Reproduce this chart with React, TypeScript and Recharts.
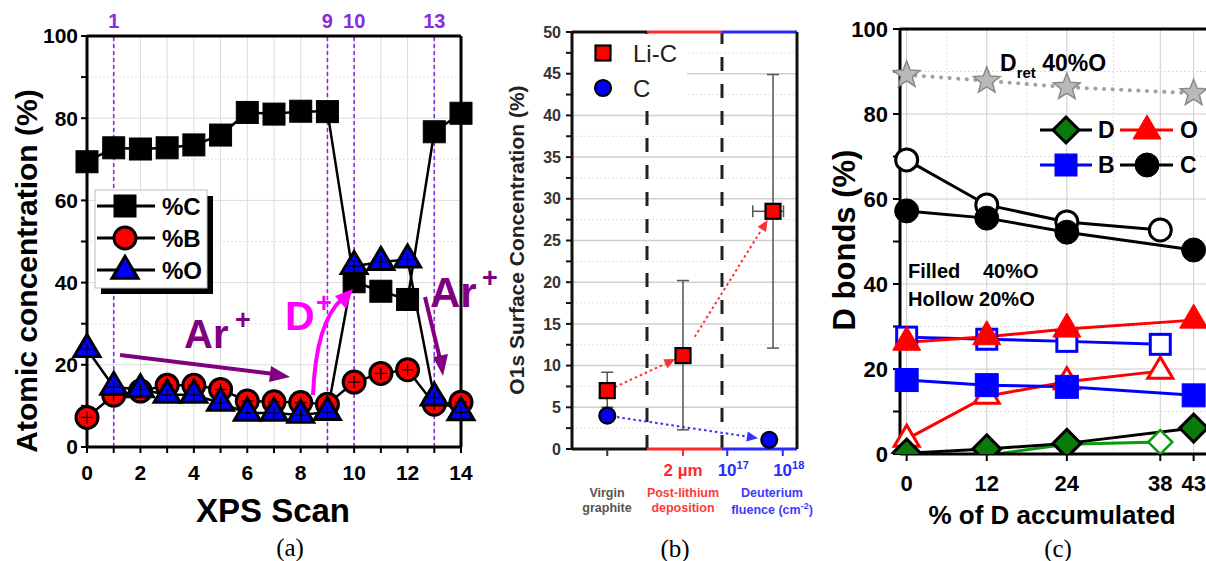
import React from 'react';
import {
  ComposedChart,
  Line,
  Scatter,
  XAxis,
  YAxis,
  CartesianGrid,
  ReferenceLine,
  ErrorBar,
} from 'recharts';

const FONT = '"Liberation Sans", Arial, Helvetica, sans-serif';
const SERIF = '"Liberation Serif", "Times New Roman", serif';

// ---------------- Panel (a) data ----------------
const scanX = [0, 1, 2, 3, 4, 5, 6, 7, 8, 9, 10, 11, 12, 13, 14];
const pctC = [69.4, 72.8, 72.5, 72.8, 73.5, 75.9, 81.4, 81.0, 81.7, 81.6, 40.2, 37.9, 35.9, 76.7, 81.2];
const pctB = [7.2, 12.6, 13.6, 15.0, 15.0, 14.0, 11.2, 11.0, 10.8, 10.4, 15.8, 17.9, 18.8, 10.4, 10.9];
const pctO = [23.8, 14.6, 14.0, 12.7, 12.7, 10.7, 8.3, 8.3, 7.8, 8.5, 44.0, 45.0, 45.6, 12.0, 8.4];
const scanMarks = [1, 9, 10, 13];
const aYTicks = [0, 10, 20, 30, 40, 50, 60, 70, 80, 90, 100];
const aYMajor = [20, 40, 60, 80];
const aYMinor = [10, 30, 50, 70, 90];

// ---------------- Panel (b) data ----------------
const bLiCX = [0.47, 1.48, 2.68];
const bLiC = [7.0, 11.2, 28.5];
const bLiCErrLow = [2.0, 8.9, 16.4];
const bLiCErrHigh = [2.2, 9.0, 16.4];
const bLiCXErrLow = [0, 0, 0.27];
const bLiCXErrHigh = [0, 0, 0.14];
const bCX = [0.47, 2.63];
const bC = [4.0, 1.1];
const bYTicks = [0, 2.5, 5, 7.5, 10, 12.5, 15, 17.5, 20, 22.5, 25, 27.5, 30, 32.5, 35, 37.5, 40, 42.5, 45, 47.5, 50];
const bYMajor = [5, 10, 15, 20, 25, 30, 35, 40, 45];
const bYMinor = [2.5, 7.5, 12.5, 17.5, 22.5, 27.5, 32.5, 37.5, 42.5, 47.5];
const bSections = [0, 1, 2, 3];
const bSectionColors = ['#111111', '#ff2a2a', '#2a2aff'];
const bTicks = [0.47, 1.48, 2.07, 2.81];
const bTickBase = ['', '2 \u00b5m', '10', '10'];
const bTickExp = ['', '', '17', '18'];
const bTickColors = ['#333333', '#ff2a2a', '#2a2aff', '#2a2aff'];

// ---------------- Panel (c) data ----------------
const accFilled = [0, 12, 24, 43];
const accHollow = [0, 12, 24, 38];
const cTicks = [0, 12, 24, 38, 43];
const dRet = [89.2, 87.8, 86.3, 84.9];
const cFilled = [57.2, 55.5, 52.2, 48.0];
const cHollow = [69.2, 58.6, 54.6, 52.7];
const oFilled = [26.3, 27.6, 29.4, 31.5];
const oHollow = [3.5, 13.6, 17.0, 19.5];
const bFilled = [17.4, 16.2, 15.8, 13.8];
const bHollow = [27.5, 27.0, 26.5, 25.8];
const dFilled = [0.2, 1.2, 2.5, 6.1];
const dHollow = [0.0, -0.3, 2.3, 2.8];
const cYTicks = [0, 10, 20, 30, 40, 50, 60, 70, 80, 90, 100];
const cYMajor = [20, 40, 60, 80];
const cYMinor = [10, 30, 50, 70, 90];
const cXMinor = [6, 18, 31];

const zip = (xs: number[], ys: number[]) => xs.map((x, i) => ({ x, y: ys[i] }));

const dataA = scanX.map((x, i) => ({ x, C: pctC[i], B: pctB[i], O: pctO[i] }));

const dataLiC = bLiCX.map((x, i) => ({
  x,
  y: bLiC[i],
  err: [bLiCErrLow[i], bLiCErrHigh[i]],
  xerr: [bLiCXErrLow[i], bLiCXErrHigh[i]],
}));
const dataC = zip(bCX, bC);

// ---------------- Marker shapes ----------------
const Square = ({ cx, cy, s, fill, stroke, sw }: any) => (
  <rect x={cx - s / 2} y={cy - s / 2} width={s} height={s} fill={fill} stroke={stroke} strokeWidth={sw} />
);
const Circle = ({ cx, cy, r, fill, stroke, sw }: any) => (
  <circle cx={cx} cy={cy} r={r} fill={fill} stroke={stroke} strokeWidth={sw} />
);
const Triangle = ({ cx, cy, w, h, fill, stroke, sw }: any) => (
  <polygon
    points={`${cx},${cy - (2 * h) / 3} ${cx + w / 2},${cy + h / 3} ${cx - w / 2},${cy + h / 3}`}
    fill={fill}
    stroke={stroke}
    strokeWidth={sw}
    strokeLinejoin="miter"
  />
);
const Diamond = ({ cx, cy, r, fill, stroke, sw }: any) => (
  <polygon
    points={`${cx},${cy - r} ${cx + r},${cy} ${cx},${cy + r} ${cx - r},${cy}`}
    fill={fill}
    stroke={stroke}
    strokeWidth={sw}
  />
);
const Star = ({ cx, cy, R, rr, fill, stroke, sw }: any) => {
  const pts: string[] = [];
  for (let i = 0; i < 10; i++) {
    const ang = -Math.PI / 2 + (i * Math.PI) / 5;
    const rad = i % 2 === 0 ? R : rr;
    pts.push(`${cx + rad * Math.cos(ang)},${cy + rad * Math.sin(ang)}`);
  }
  return <polygon points={pts.join(' ')} fill={fill} stroke={stroke} strokeWidth={sw} />;
};
const Cross = ({ cx, cy }: any) => (
  <g stroke="#000" strokeWidth={1.2}>
    <line x1={cx - 6} y1={cy} x2={cx + 6} y2={cy} />
    <line x1={cx} y1={cy - 6} x2={cx} y2={cy + 6} />
  </g>
);

const okPt = (p: any) => p && Number.isFinite(p.cx) && Number.isFinite(p.cy);

const dotSqA = (p: any) =>
  okPt(p) ? (
    <g key={`sa-${p.index}`}>
      <Square cx={p.cx} cy={p.cy} s={22} fill="#000" stroke="#000" sw={1} />
    </g>
  ) : (
    <g key={`sa-${p.index}`} />
  );
const dotCircA = (p: any) =>
  okPt(p) ? (
    <g key={`ca-${p.index}`}>
      <Circle cx={p.cx} cy={p.cy} r={11} fill="#ff0000" stroke="#000" sw={3} />
      <Cross cx={p.cx} cy={p.cy} />
    </g>
  ) : (
    <g key={`ca-${p.index}`} />
  );
const dotTriA = (p: any) =>
  okPt(p) ? (
    <g key={`ta-${p.index}`}>
      <Triangle cx={p.cx} cy={p.cy} w={26} h={22} fill="#0000ff" stroke="#000" sw={3} />
      <Cross cx={p.cx} cy={p.cy} />
    </g>
  ) : (
    <g key={`ta-${p.index}`} />
  );

const mk = (name: string, render: (cx: number, cy: number) => React.ReactElement) => (p: any) =>
  okPt(p) ? <g key={`${name}-${p.index}`}>{render(p.cx, p.cy)}</g> : <g key={`${name}-${p.index}`} />;

const dotStar = mk('st', (cx, cy) => <Star cx={cx} cy={cy} R={14} rr={6} fill="#b9b9b9" stroke="#8a8a8a" sw={1.5} />);
const dotCF = mk('cf', (cx, cy) => <Circle cx={cx} cy={cy} r={12} fill="#000" stroke="#000" sw={1} />);
const dotCH = mk('ch', (cx, cy) => <Circle cx={cx} cy={cy} r={11} fill="#fff" stroke="#000" sw={3} />);
const dotOF = mk('of', (cx, cy) => <Triangle cx={cx} cy={cy} w={28} h={24} fill="#ff0000" stroke="#ff0000" sw={1} />);
const dotOH = mk('oh', (cx, cy) => <Triangle cx={cx} cy={cy} w={25} h={21} fill="#fff" stroke="#ff0000" sw={3} />);
const dotBF = mk('bf', (cx, cy) => <Square cx={cx} cy={cy} s={23} fill="#0000ff" stroke="#0000ff" sw={1} />);
const dotBH = mk('bh', (cx, cy) => <Square cx={cx} cy={cy} s={20} fill="#fff" stroke="#0000ff" sw={3} />);
const dotDF = mk('df', (cx, cy) => <Diamond cx={cx} cy={cy} r={14} fill="#0a7a0a" stroke="#000" sw={3} />);
const dotDH = mk('dh', (cx, cy) => <Diamond cx={cx} cy={cy} r={12} fill="#fff" stroke="#0a9a0a" sw={2.5} />);

// Arrow shape for ReferenceLine segments
const arrowShape = (color: string, dash: string, w: number, head: number) => (props: any) => {
  const { x1, y1, x2, y2 } = props;
  if (![x1, y1, x2, y2].every(Number.isFinite)) return <g />;
  const ang = Math.atan2(y2 - y1, x2 - x1);
  const bx = x2 - head * Math.cos(ang);
  const by = y2 - head * Math.sin(ang);
  const px = Math.sin(ang) * head * 0.45;
  const py = -Math.cos(ang) * head * 0.45;
  return (
    <g>
      <line x1={x1} y1={y1} x2={bx} y2={by} stroke={color} strokeWidth={w} strokeDasharray={dash} />
      <polygon points={`${x2},${y2} ${bx + px},${by + py} ${bx - px},${by - py}`} fill={color} />
    </g>
  );
};

const lerp = (a: number, b: number, t: number) => a + (b - a) * t;
const seg = (xa: number, ya: number, xb: number, yb: number, t0: number, t1: number) => [
  { x: lerp(xa, xb, t0), y: lerp(ya, yb, t0) },
  { x: lerp(xa, xb, t1), y: lerp(ya, yb, t1) },
];

const tickFont = { fontFamily: FONT, fontWeight: 700 };

// custom x tick for panel (b)
const BTick = (props: any) => {
  const { x, y, payload } = props;
  const i = bTicks.indexOf(payload.value);
  if (i < 0) return <g />;
  const col = bTickColors[i];
  return (
    <g>
      <line x1={x} y1={y} x2={x} y2={y + 7} stroke={col} strokeWidth={2} />
      {bTickBase[i] ? (
        <text x={x + (bTickExp[i] ? 6 : 0)} y={y + 27} textAnchor="middle" fill={col} fontSize={17} {...tickFont}>
          {bTickBase[i]}
          {bTickExp[i] ? (
            <tspan fontSize={11} dy={-7}>
              {bTickExp[i]}
            </tspan>
          ) : null}
        </text>
      ) : null}
    </g>
  );
};

export default function App() {
  const panelA = (
    <ComposedChart width={480} height={561} data={dataA} margin={{ top: 36, right: 19, left: 27, bottom: 74 }}>
      <CartesianGrid stroke="#dcdcdc" strokeWidth={1} verticalValues={scanX} horizontalValues={aYMajor} />
      {aYMinor.map((v) => (
        <ReferenceLine key={`amin-${v}`} y={v} stroke="#e2e2e2" strokeDasharray="2 2" />
      ))}
      {scanMarks.map((v) => (
        <ReferenceLine
          key={`mark-${v}`}
          x={v}
          stroke="#8a2be2"
          strokeWidth={1.6}
          strokeDasharray="4 3"
          label={{ value: String(v), position: 'top', offset: 8, fill: '#8a2be2', fontSize: 20, ...tickFont }}
        />
      ))}
      <ReferenceLine y={100} stroke="#000" strokeWidth={3} />
      <ReferenceLine x={14} stroke="#000" strokeWidth={3} />
      <XAxis
        type="number"
        dataKey="x"
        domain={[0, 14]}
        ticks={scanX}
        interval={0}
        tickFormatter={(v: number) => (v % 2 === 0 ? String(v) : '')}
        axisLine={{ stroke: '#000', strokeWidth: 3 }}
        tickLine={{ stroke: '#000', strokeWidth: 2 }}
        tickSize={6}
        tickMargin={12}
        tick={{ fill: '#000', fontSize: 21, ...tickFont }}
        height={40}
      />
      <YAxis
        type="number"
        domain={[0, 100]}
        ticks={aYTicks}
        interval={0}
        tickFormatter={(v: number) => (v % 20 === 0 ? String(v) : '')}
        axisLine={{ stroke: '#000', strokeWidth: 3 }}
        tickLine={{ stroke: '#000', strokeWidth: 2 }}
        tickSize={6}
        tickMargin={3}
        tick={{ fill: '#000', fontSize: 21, ...tickFont }}
        width={60}
      />
      <Line dataKey="C" stroke="#000" strokeWidth={2.5} dot={dotSqA} activeDot={false} isAnimationActive={false} />
      <Line dataKey="B" stroke="#000" strokeWidth={2.5} dot={dotCircA} activeDot={false} isAnimationActive={false} />
      <Line dataKey="O" stroke="#000" strokeWidth={2.5} dot={dotTriA} activeDot={false} isAnimationActive={false} />
    </ComposedChart>
  );

  const panelB = (
    <ComposedChart width={330} height={561} margin={{ top: 32, right: 23, left: 42, bottom: 82 }}>
      <CartesianGrid stroke="#cfcfcf" strokeWidth={1.5} vertical={false} horizontalValues={bYMajor} />
      {bYMinor.map((v) => (
        <ReferenceLine key={`bmin-${v}`} y={v} stroke="#e0e0e0" strokeDasharray="2 2" />
      ))}
      {[1, 2].map((v) => (
        <ReferenceLine key={`bd-${v}`} x={v} stroke="#222" strokeWidth={3} strokeDasharray="14 13" />
      ))}
      {bSectionColors.map((c, i) => (
        <ReferenceLine
          key={`bbot-${i}`}
          segment={[
            { x: bSections[i], y: 0 },
            { x: bSections[i + 1], y: 0 },
          ]}
          stroke={c}
          strokeWidth={3}
        />
      ))}
      {bSectionColors.map((c, i) => (
        <ReferenceLine
          key={`btop-${i}`}
          segment={[
            { x: bSections[i], y: 50 },
            { x: bSections[i + 1], y: 50 },
          ]}
          stroke={c}
          strokeWidth={3}
        />
      ))}
      <ReferenceLine x={3} stroke="#111" strokeWidth={3} />
      <ReferenceLine
        segment={seg(bLiCX[0], bLiC[0], bLiCX[1], bLiC[1], 0.1, 0.9)}
        shape={arrowShape('#ff3030', '2.5 3', 2, 11)}
      />
      <ReferenceLine
        segment={seg(bLiCX[1], bLiC[1], bLiCX[2], bLiC[2], 0.13, 0.94)}
        shape={arrowShape('#ff3030', '2.5 3', 2, 11)}
      />
      <ReferenceLine
        segment={seg(bCX[0], bC[0], bCX[1], bC[1], 0.06, 0.93)}
        shape={arrowShape('#3030ff', '2.5 3', 2, 11)}
      />
      <XAxis
        type="number"
        dataKey="x"
        domain={[0, 3]}
        ticks={bTicks}
        interval={0}
        axisLine={false}
        tickLine={false}
        tickSize={0}
        tickMargin={0}
        tick={<BTick />}
        height={30}
      />
      <YAxis
        type="number"
        dataKey="y"
        domain={[0, 50]}
        ticks={bYTicks}
        interval={0}
        tickFormatter={(v: number) => (v % 5 === 0 ? String(v) : '')}
        axisLine={{ stroke: '#111', strokeWidth: 3 }}
        tickLine={{ stroke: '#111', strokeWidth: 2 }}
        tickSize={6}
        tickMargin={5}
        tick={{ fill: '#333', fontSize: 16, ...tickFont }}
        width={40}
      />
      <Scatter
        data={dataLiC}
        dataKey="y"
        isAnimationActive={false}
        shape={(p: any) =>
          okPt(p) ? <Square cx={p.cx} cy={p.cy} s={15} fill="#ff0000" stroke="#000" sw={2.2} /> : <g />
        }
      >
        <ErrorBar dataKey="err" direction="y" width={6} stroke="#555" strokeWidth={1.5} isAnimationActive={false} />
        <ErrorBar dataKey="xerr" direction="x" width={6} stroke="#555" strokeWidth={1.5} isAnimationActive={false} />
      </Scatter>
      <Scatter
        data={dataC}
        dataKey="y"
        isAnimationActive={false}
        shape={(p: any) =>
          okPt(p) ? <Circle cx={p.cx} cy={p.cy} r={8} fill="#0000ff" stroke="#000" sw={2.2} /> : <g />
        }
      />
    </ComposedChart>
  );

  const lineC = (data: number[], xs: number[], stroke: string, dot: any, extra: any = {}) => (
    <Line
      data={zip(xs, data)}
      dataKey="y"
      stroke={stroke}
      strokeWidth={3}
      dot={dot}
      activeDot={false}
      isAnimationActive={false}
      {...extra}
    />
  );

  const panelC = (
    <ComposedChart width={387} height={561} margin={{ top: 29, right: 0, left: 20, bottom: 67 }}>
      <CartesianGrid stroke="#cccccc" strokeWidth={1} verticalValues={cTicks} horizontalValues={cYMajor} />
      {cYMinor.map((v) => (
        <ReferenceLine key={`cmin-${v}`} y={v} stroke="#dcdcdc" strokeDasharray="2 2" />
      ))}
      {cXMinor.map((v) => (
        <ReferenceLine key={`cxmin-${v}`} x={v} stroke="#dcdcdc" strokeDasharray="2 2" />
      ))}
      <ReferenceLine y={100} stroke="#000" strokeWidth={3} />
      <XAxis
        type="number"
        dataKey="x"
        domain={[-1, 45]}
        ticks={cTicks}
        interval={0}
        axisLine={{ stroke: '#000', strokeWidth: 3 }}
        tickLine={{ stroke: '#000', strokeWidth: 2 }}
        tickSize={7}
        tickMargin={14}
        tick={{ fill: '#000', fontSize: 22, ...tickFont }}
        height={40}
        allowDuplicatedCategory={false}
      />
      <YAxis
        type="number"
        domain={[0, 100]}
        ticks={cYTicks}
        interval={0}
        tickFormatter={(v: number) => (v % 20 === 0 ? String(v) : '')}
        axisLine={{ stroke: '#000', strokeWidth: 3 }}
        tickLine={{ stroke: '#000', strokeWidth: 2 }}
        tickSize={7}
        tickMargin={5}
        tick={{ fill: '#000', fontSize: 22, ...tickFont }}
        width={60}
        allowDataOverflow
      />
      {lineC(dRet, accFilled, '#a0a0a0', dotStar, { strokeDasharray: '0.1 8.5', strokeLinecap: 'round', strokeWidth: 4 })}
      {lineC(dHollow, accHollow, '#0a9a0a', dotDH)}
      {lineC(oHollow, accHollow, '#ff0000', dotOH)}
      {lineC(bHollow, accHollow, '#0000ff', dotBH)}
      {lineC(cHollow, accHollow, '#000', dotCH)}
      {lineC(bFilled, accFilled, '#0000ff', dotBF)}
      {lineC(oFilled, accFilled, '#ff0000', dotOF)}
      {lineC(cFilled, accFilled, '#000', dotCF)}
      {lineC(dFilled, accFilled, '#000', dotDF)}
    </ComposedChart>
  );

  const T = (p: any) => <text fontFamily={FONT} {...p} />;

  return (
    <div style={{ position: 'absolute', left: 0, top: 0, width: 1206, height: 561, background: '#fff', overflow: 'hidden' }}>
      <div style={{ position: 'absolute', left: 0, top: 0 }}>{panelA}</div>
      <div style={{ position: 'absolute', left: 490, top: 0 }}>{panelB}</div>
      <div style={{ position: 'absolute', left: 820, top: 0 }}>{panelC}</div>
      <svg width={1206} height={561} style={{ position: 'absolute', left: 0, top: 0, pointerEvents: 'none' }}>
        {/* ---------- Panel (a) annotations ---------- */}
        <T x={37} y={271} transform="rotate(-90 37 271)" textAnchor="middle" fontSize={30} fontWeight={700} fill="#000">
          Atomic concentration (%)
        </T>
        <T x={273} y={522} textAnchor="middle" fontSize={33} fontWeight={700} fill="#000">
          XPS Scan
        </T>
        <rect x={101} y={196} width={112} height={98} fill="#000" />
        <rect x={95} y={190} width={112} height={98} fill="#fff" stroke="#bdbdbd" strokeWidth={1} />
        <line x1={97} y1={206} x2={155} y2={206} stroke="#000" strokeWidth={3} />
        <Square cx={125} cy={206} s={22} fill="#000" stroke="#000" sw={1} />
        <T x={162} y={215} fontSize={24} fontWeight={700}>%C</T>
        <line x1={97} y1={238} x2={155} y2={238} stroke="#000" strokeWidth={3} />
        <Circle cx={125} cy={238} r={11} fill="#ff0000" stroke="#000" sw={3} />
        <T x={162} y={247} fontSize={24} fontWeight={700}>%B</T>
        <line x1={97} y1={270} x2={155} y2={270} stroke="#000" strokeWidth={3} />
        <Triangle cx={125} cy={271} w={26} h={22} fill="#0000ff" stroke="#000" sw={3} />
        <T x={162} y={279} fontSize={24} fontWeight={700}>%O</T>

        <T x={184} y={348} fontSize={40} fontWeight={700} fill="#800080">Ar</T>
        <T x={235} y={329} fontSize={27} fontWeight={700} fill="#800080">+</T>
        <line x1={120} y1={355} x2={274} y2={374} stroke="#800080" strokeWidth={4} />
        <polygon points="290,377 271,366 269,382" fill="#800080" />

        <T x={285} y={330} fontSize={41} fontWeight={700} fill="#ff00ff">D</T>
        <T x={316} y={312} fontSize={27} fontWeight={700} fill="#ff00ff">+</T>
        <path d="M313,395 Q316,322 342,299" fill="none" stroke="#ff00ff" strokeWidth={4} />
        <polygon points="353,289 335,296 346,309" fill="#ff00ff" />

        <T x={430} y={307} fontSize={42} fontWeight={700} fill="#800080">Ar</T>
        <T x={482} y={287} fontSize={27} fontWeight={700} fill="#800080">+</T>
        <line x1={425} y1={297} x2={440} y2={359} stroke="#800080" strokeWidth={4} />
        <polygon points="443,376 433,357 448,354" fill="#800080" />

        <T x={290} y={556} textAnchor="middle" fontSize={25} fontFamily={SERIF} fill="#000">(a)</T>

        {/* ---------- Panel (b) annotations ---------- */}
        <T x={524} y={240} transform="rotate(-90 524 240)" textAnchor="middle" fontSize={21} fontWeight={700} fill="#222">
          O1s Surface Concentration (%)
        </T>
        <rect x={574} y={34} width={113} height={76} fill="#fff" />
        <Square cx={603} cy={53} s={15} fill="#ff0000" stroke="#000" sw={2.2} />
        <T x={633} y={62} fontSize={24} fill="#222">Li-C</T>
        <Circle cx={603} cy={88} r={8} fill="#0000ff" stroke="#000" sw={2.2} />
        <T x={633} y={97} fontSize={24} fill="#222">C</T>
        <T x={607} y={497} textAnchor="middle" fontSize={12.5} fontWeight={700} fill="#555">Virgin</T>
        <T x={607} y={512} textAnchor="middle" fontSize={12.5} fontWeight={700} fill="#555">graphite</T>
        <T x={683} y={497} textAnchor="middle" fontSize={12.5} fontWeight={700} fill="#ff3a3a">Post-lithium</T>
        <T x={683} y={512} textAnchor="middle" fontSize={12.5} fontWeight={700} fill="#ff3a3a">deposition</T>
        <T x={772} y={497} textAnchor="middle" fontSize={12.5} fontWeight={700} fill="#3a3aff">Deuterium</T>
        <T x={772} y={514} textAnchor="middle" fontSize={12.5} fontWeight={700} fill="#3a3aff">
          fluence (cm<tspan fontSize={9} dy={-5}>-2</tspan><tspan dy={5}>)</tspan>
        </T>
        <T x={675} y={557} textAnchor="middle" fontSize={25} fontFamily={SERIF} fill="#000">(b)</T>

        {/* ---------- Panel (c) annotations ---------- */}
        <T x={855} y={240} transform="rotate(-90 855 240)" textAnchor="middle" fontSize={31} fontWeight={700} fill="#000">
          D bonds (%)
        </T>
        <T x={1052} y={524} textAnchor="middle" fontSize={26} fontWeight={700} fill="#000">
          % of D accumulated
        </T>
        <T x={1000} y={71} fontSize={23} fontWeight={700} fill="#000">
          D<tspan fontSize={15} dy={7}>ret</tspan>
          <tspan dy={-7}> 40%O</tspan>
        </T>
        <T x={908} y={278} fontSize={20} fontWeight={700} fill="#000">Filled</T>
        <T x={983} y={278} fontSize={20} fontWeight={700} fill="#000">40%O</T>
        <T x={908} y={306} fontSize={20} fontWeight={700} fill="#000">Hollow 20%O</T>

        <line x1={1040} y1={130} x2={1092} y2={130} stroke="#000" strokeWidth={3} />
        <Diamond cx={1066} cy={130} r={13} fill="#0a7a0a" stroke="#000" sw={3} />
        <T x={1098} y={138} fontSize={23} fontWeight={700}>D</T>
        <line x1={1120} y1={130} x2={1173} y2={130} stroke="#ff0000" strokeWidth={3} />
        <Triangle cx={1147} cy={131} w={28} h={24} fill="#ff0000" stroke="#ff0000" sw={1} />
        <T x={1180} y={138} fontSize={23} fontWeight={700}>O</T>
        <line x1={1040} y1={165} x2={1092} y2={165} stroke="#0000ff" strokeWidth={3} />
        <Square cx={1066} cy={165} s={22} fill="#0000ff" stroke="#0000ff" sw={1} />
        <T x={1098} y={173} fontSize={23} fontWeight={700}>B</T>
        <line x1={1120} y1={165} x2={1173} y2={165} stroke="#000" strokeWidth={3} />
        <Circle cx={1147} cy={165} r={12} fill="#000" stroke="#000" sw={1} />
        <T x={1180} y={173} fontSize={23} fontWeight={700}>C</T>

        <T x={1058} y={557} textAnchor="middle" fontSize={25} fontFamily={SERIF} fill="#000">(c)</T>
      </svg>
    </div>
  );
}
